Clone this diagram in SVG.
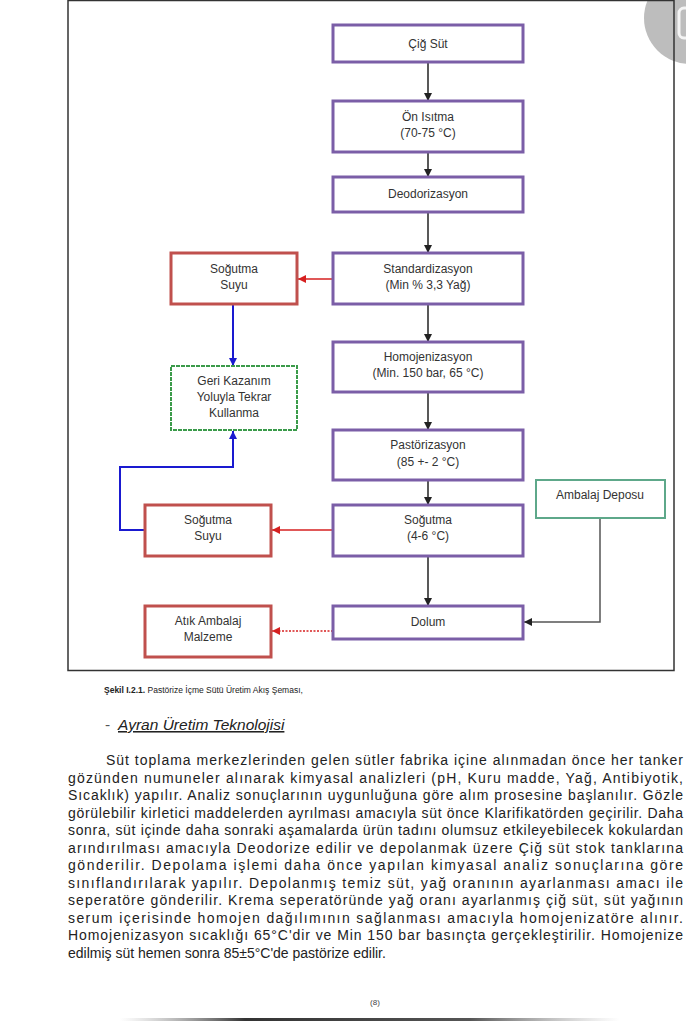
<svg xmlns="http://www.w3.org/2000/svg" width="686" height="1024" viewBox="0 0 686 1024">
<style>
.t{font-family:"Liberation Sans",Arial,sans-serif;font-size:12px;fill:#333;text-anchor:middle}
.p{font-family:"Liberation Sans",Arial,sans-serif;font-size:14px;fill:#222}
.main{fill:#fff;stroke:#7b5ea7;stroke-width:3}
.red{fill:#fff;stroke:#c0504d;stroke-width:3}
.grn{fill:#fff;stroke:#3a9a4a;stroke-width:2;stroke-dasharray:4 1}
.teal{fill:#fff;stroke:#5ea88a;stroke-width:2}
.cb{stroke:#222;stroke-width:1.5;fill:none}
.cr{stroke:#d62020;stroke-width:1.5;fill:none}
.cbl{stroke:#1a1ad0;stroke-width:2;fill:none}
.cg{stroke:#555;stroke-width:1.5;fill:none}
</style>
<defs>
<marker id="ab" markerWidth="8" markerHeight="8" refX="8" refY="4" orient="auto" markerUnits="userSpaceOnUse"><path d="M0,0 L8,4 L0,8 z" fill="#222"/></marker>
<marker id="ar" markerWidth="8" markerHeight="8" refX="8" refY="4" orient="auto" markerUnits="userSpaceOnUse"><path d="M0,0 L8,4 L0,8 z" fill="#d62020"/></marker>
<marker id="abl" markerWidth="8" markerHeight="8" refX="8" refY="4" orient="auto" markerUnits="userSpaceOnUse"><path d="M0,0 L8,4 L0,8 z" fill="#1a1ad0"/></marker>
<marker id="ag" markerWidth="8" markerHeight="8" refX="8" refY="4" orient="auto" markerUnits="userSpaceOnUse"><path d="M0,0 L8,4 L0,8 z" fill="#222"/></marker>
<linearGradient id="fade" x1="0" x2="1" y1="0" y2="0">
<stop offset="0" stop-color="#888" stop-opacity="0"/>
<stop offset="0.25" stop-color="#333"/>
<stop offset="0.7" stop-color="#555"/>
<stop offset="1" stop-color="#999" stop-opacity="0"/>
</linearGradient>
</defs>
<rect width="686" height="1024" fill="#fff"/>
<circle cx="690" cy="18" r="46" fill="#bdbdbd"/>
<rect x="679" y="8" width="20" height="30" rx="5" fill="none" stroke="#f4f4f4" stroke-width="3"/>
<rect x="68" y="0.5" width="606" height="670" fill="none" stroke="#333" stroke-width="1.5"/>

<g id="connectors">
<line class="cb" x1="428" y1="62" x2="428" y2="101" marker-end="url(#ab)"/>
<line class="cb" x1="428" y1="152" x2="428" y2="177" marker-end="url(#ab)"/>
<line class="cb" x1="428" y1="212" x2="428" y2="253" marker-end="url(#ab)"/>
<line class="cb" x1="428" y1="304" x2="428" y2="342" marker-end="url(#ab)"/>
<line class="cb" x1="428" y1="392" x2="428" y2="430" marker-end="url(#ab)"/>
<line class="cb" x1="428" y1="480" x2="428" y2="505" marker-end="url(#ab)"/>
<line class="cb" x1="428" y1="556" x2="428" y2="606" marker-end="url(#ab)"/>
<line class="cr" x1="333" y1="279" x2="298" y2="279" marker-end="url(#ar)"/>
<line class="cbl" x1="233" y1="304" x2="233" y2="366" marker-end="url(#abl)"/>
<path class="cbl" d="M145,530 H120 V467 H233 V431" marker-end="url(#abl)"/>
<line class="cr" x1="333" y1="530" x2="272" y2="530" marker-end="url(#ar)"/>
<line class="cr" x1="333" y1="631" x2="272" y2="631" stroke-dasharray="2 1.5" marker-end="url(#ar)"/>
<path class="cg" d="M600,518 V622 H524" marker-end="url(#ag)"/>
</g>

<g id="cig-sut"><rect class="main" x="333" y="25" width="190" height="37"/><text class="t" x="428" y="48">Çiğ Süt</text></g>
<g id="on-isitma"><rect class="main" x="333" y="101" width="190" height="51"/><text class="t" x="428" y="121">Ön Isıtma</text><text class="t" x="428" y="137">(70-75 °C)</text></g>
<g id="deodorizasyon"><rect class="main" x="333" y="177" width="190" height="35"/><text class="t" x="428" y="198">Deodorizasyon</text></g>
<g id="standardizasyon"><rect class="main" x="333" y="253" width="190" height="51"/><text class="t" x="428" y="273">Standardizasyon</text><text class="t" x="428" y="289">(Min % 3,3 Yağ)</text></g>
<g id="homojenizasyon"><rect class="main" x="333" y="342" width="190" height="50"/><text class="t" x="428" y="361">Homojenizasyon</text><text class="t" x="428" y="377">(Min. 150 bar, 65 °C)</text></g>
<g id="pastorizasyon"><rect class="main" x="333" y="430" width="190" height="50"/><text class="t" x="428" y="449">Pastörizasyon</text><text class="t" x="428" y="466">(85 +- 2 °C)</text></g>
<g id="sogutma"><rect class="main" x="333" y="505" width="190" height="51"/><text class="t" x="428" y="524">Soğutma</text><text class="t" x="428" y="540">(4-6 °C)</text></g>
<g id="dolum"><rect class="main" x="333" y="606" width="190" height="33"/><text class="t" x="428" y="626">Dolum</text></g>

<g id="sogutma-suyu-1"><rect class="red" x="171" y="253" width="126" height="51"/><text class="t" x="234" y="273">Soğutma</text><text class="t" x="234" y="289">Suyu</text></g>
<g id="geri-kazanim"><rect class="grn" x="171" y="366" width="126" height="64"/><text class="t" x="234" y="385">Geri Kazanım</text><text class="t" x="234" y="401">Yoluyla Tekrar</text><text class="t" x="234" y="417">Kullanma</text></g>
<g id="sogutma-suyu-2"><rect class="red" x="145" y="505" width="126" height="51"/><text class="t" x="208" y="524">Soğutma</text><text class="t" x="208" y="540">Suyu</text></g>
<g id="atik-ambalaj"><rect class="red" x="145" y="606" width="126" height="51"/><text class="t" x="208" y="625">Atık Ambalaj</text><text class="t" x="208" y="641">Malzeme</text></g>
<g id="ambalaj-deposu"><rect class="teal" x="536" y="480" width="129" height="38"/><text class="t" x="600" y="499">Ambalaj Deposu</text></g>

<text x="104" y="693" font-family="Liberation Sans,Arial,sans-serif" font-size="8.5" fill="#222"><tspan font-weight="bold">Şekil I.2.1.</tspan> Pastörize İçme Sütü Üretim Akış Şeması,</text>
<text x="105" y="730" font-family="Liberation Sans,Arial,sans-serif" font-size="15.5" fill="#555">-</text>
<text x="118" y="730" font-family="Liberation Sans,Arial,sans-serif" font-size="15.5" font-style="italic" text-decoration="underline" fill="#222">Ayran Üretim Teknolojisi</text>

<text class="p" x="106" y="765" textLength="577" lengthAdjust="spacing">Süt toplama merkezlerinden gelen sütler fabrika içine alınmadan önce her tanker</text>
<text class="p" x="68" y="782.5" textLength="615" lengthAdjust="spacing">gözünden numuneler alınarak kimyasal analizleri (pH, Kuru madde, Yağ, Antibiyotik,</text>
<text class="p" x="68" y="800" textLength="615" lengthAdjust="spacing">Sıcaklık) yapılır. Analiz sonuçlarının uygunluğuna göre alım prosesine başlanılır. Gözle</text>
<text class="p" x="68" y="817.5" textLength="615" lengthAdjust="spacing">görülebilir kirletici maddelerden ayrılması amacıyla süt önce Klarifikatörden geçirilir. Daha</text>
<text class="p" x="68" y="835" textLength="615" lengthAdjust="spacing">sonra, süt içinde daha sonraki aşamalarda ürün tadını olumsuz etkileyebilecek kokulardan</text>
<text class="p" x="68" y="852.5" textLength="615" lengthAdjust="spacing">arındırılması amacıyla Deodorize edilir ve depolanmak üzere Çiğ süt stok tanklarına</text>
<text class="p" x="68" y="870" textLength="615" lengthAdjust="spacing">gönderilir. Depolama işlemi daha önce yapılan kimyasal analiz sonuçlarına göre</text>
<text class="p" x="68" y="887.5" textLength="615" lengthAdjust="spacing">sınıflandırılarak yapılır. Depolanmış temiz süt, yağ oranının ayarlanması amacı ile</text>
<text class="p" x="68" y="905" textLength="615" lengthAdjust="spacing">seperatöre gönderilir. Krema seperatöründe yağ oranı ayarlanmış çiğ süt, süt yağının</text>
<text class="p" x="68" y="922.5" textLength="615" lengthAdjust="spacing">serum içerisinde homojen dağılımının sağlanması amacıyla homojenizatöre alınır.</text>
<text class="p" x="68" y="940" textLength="615" lengthAdjust="spacing">Homojenizasyon sıcaklığı 65°C'dir ve Min 150 bar basınçta gerçekleştirilir. Homojenize</text>
<text class="p" x="68" y="957.5">edilmiş süt hemen sonra 85±5°C'de pastörize edilir.</text>

<text x="375" y="1005" font-family="Liberation Sans,Arial,sans-serif" font-size="8" fill="#444" text-anchor="middle">(8)</text>
<rect x="120" y="1018" width="500" height="3" fill="url(#fade)"/>
</svg>
